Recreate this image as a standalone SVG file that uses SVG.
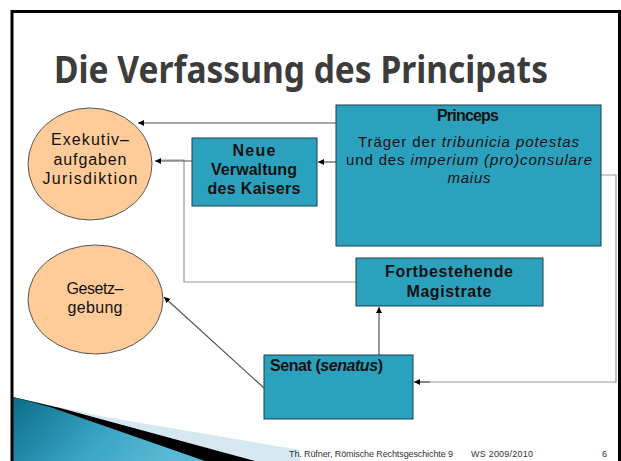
<svg xmlns="http://www.w3.org/2000/svg" width="621" height="461" viewBox="0 0 621 461">
<defs>
<marker id="ah" viewBox="0 0 10 10" refX="10" refY="5" markerWidth="6" markerHeight="6" markerUnits="userSpaceOnUse" orient="auto">
<path d="M0,0 L10,5 L0,10 z" fill="#000"/>
</marker>
<linearGradient id="sw" x1="0" y1="0" x2="1" y2="0.3">
<stop offset="0" stop-color="#0a6d88"/>
<stop offset="0.6" stop-color="#3aa6c6"/>
<stop offset="1" stop-color="#5bb8d4"/>
</linearGradient>
<style>
.t{font-family:"Liberation Sans","DejaVu Sans",sans-serif;font-size:16px;fill:#111;}
.s{font-size:15px;}
.b{font-weight:bold;}
.c{text-anchor:middle;}
.box{fill:#2ca1be;stroke:#1c3c48;stroke-width:1;}
.ell{fill:#ffcc99;stroke:#555;stroke-width:1;}
.ln{fill:none;stroke:#555;stroke-width:1.2;}
.lg{fill:none;stroke:#999;stroke-width:1.2;}
</style>
</defs>
<rect x="0" y="0" width="621" height="461" fill="#fff"/>
<!-- swoosh decoration -->
<polygon points="13,397 100,416 300,450 300,461 13,461" fill="#d6e8ef"/>
<polygon points="13,397 60,408 255,461 13,461" fill="#000"/>
<polygon points="13,397 50,407 205,461 13,461" fill="url(#sw)"/>
<!-- frame -->
<rect x="12" y="11.5" width="607.5" height="470" fill="none" stroke="#000" stroke-width="3"/>
<text x="54" y="83" font-family="Noto Sans, DejaVu Sans, sans-serif" font-size="38" font-weight="bold" fill="#3c3c3c" textLength="494" lengthAdjust="spacingAndGlyphs">Die Verfassung des Principats</text>

<g id="connectors">
<path class="ln" d="M336,123 H138" marker-end="url(#ah)"/>
<path class="ln" d="M336,162 H318" marker-end="url(#ah)"/>
<path class="lg" d="M358,282 H184 V160 H160"/>
<path class="ln" d="M192,161 H155" marker-end="url(#ah)"/>
<path class="lg" d="M601,175 H616 V382 H420"/>
<path class="ln" d="M430,382 H414" marker-end="url(#ah)"/>
<path class="ln" d="M379,355 V307" marker-end="url(#ah)"/>
<path class="ln" d="M264,388 L164,297" marker-end="url(#ah)"/>
</g>

<g id="exekutiv">
<ellipse class="ell" cx="90" cy="164" rx="62" ry="56"/>
<text class="t c" x="90" y="145" textLength="78">Exekutiv–</text>
<text class="t c" x="90" y="165" textLength="73">aufgaben</text>
<text class="t c" x="90" y="184" textLength="95">Jurisdiktion</text>
</g>

<g id="gesetzgebung">
<ellipse class="ell" cx="95.5" cy="299.5" rx="67.5" ry="54.5"/>
<text class="t c" x="95" y="294" textLength="57">Gesetz–</text>
<text class="t c" x="95" y="313" textLength="55">gebung</text>
</g>

<g id="verwaltung">
<rect class="box" x="192" y="138" width="125" height="68"/>
<text class="t b c" x="254" y="156" textLength="43">Neue</text>
<text class="t b c" x="254" y="175" textLength="86">Verwaltung</text>
<text class="t b c" x="254" y="194" textLength="93">des Kaisers</text>
</g>

<g id="princeps">
<rect class="box" x="336" y="105" width="265" height="141"/>
<text class="t b c" x="468" y="121" textLength="62">Princeps</text>
<text class="t s" x="358" y="147" textLength="221">Träger der <tspan font-style="italic">tribunicia potestas</tspan></text>
<text class="t s" x="346" y="165" textLength="246">und des <tspan font-style="italic">imperium (pro)consulare</tspan></text>
<text class="t s c" x="469" y="183" font-style="italic" textLength="43">maius</text>
</g>

<g id="magistrate">
<rect class="box" x="356" y="258" width="187" height="48"/>
<text class="t b c" x="449" y="277" textLength="128">Fortbestehende</text>
<text class="t b c" x="449" y="297" textLength="85">Magistrate</text>
</g>

<g id="senat">
<rect class="box" x="264" y="355" width="149" height="64"/>
<text class="t b" x="270" y="371" textLength="113">Senat (<tspan font-style="italic">senatus</tspan>)</text>
</g>

<g id="footer" font-family="Liberation Sans, DejaVu Sans, sans-serif" font-size="9" fill="#333">
<text x="289" y="457" textLength="164">Th. Rüfner, Römische Rechtsgeschichte 9</text>
<text x="471" y="457" textLength="62">WS 2009/2010</text>
<text x="602" y="457">6</text>
</g>
</svg>
